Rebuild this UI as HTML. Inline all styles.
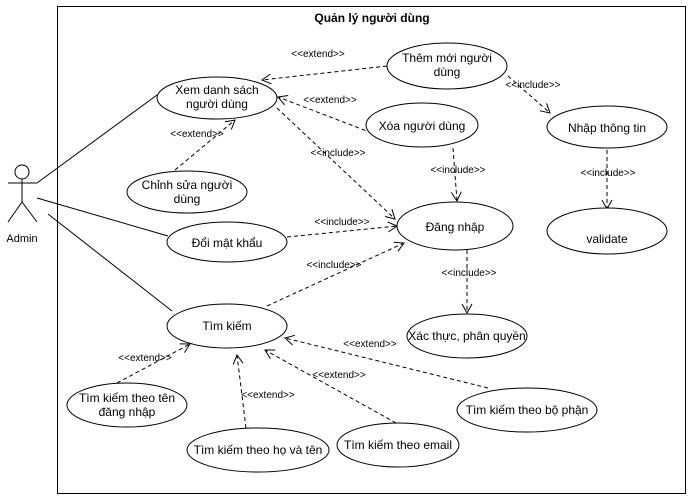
<!DOCTYPE html>
<html><head><meta charset="utf-8"><style>
html,body{margin:0;padding:0;background:#fff;}
svg{display:block;font-family:"Liberation Sans",Arial,sans-serif;}
</style></head><body>
<svg width="693" height="499" viewBox="0 0 693 499" xmlns="http://www.w3.org/2000/svg">
<defs>
<marker id="a" markerWidth="12" markerHeight="12" refX="10" refY="6" orient="auto" markerUnits="userSpaceOnUse">
<path d="M1,1 L10,6 L1,11" fill="none" stroke="#000" stroke-width="1"/>
</marker>
</defs>
<rect x="57.5" y="6.5" width="628" height="487" fill="#fff" stroke="#000"/>
<text x="372" y="22" font-size="12" font-weight="bold" text-anchor="middle">Quản lý người dùng</text>

<g stroke="#000" fill="none" stroke-width="1">
<circle cx="22" cy="172" r="7" fill="#fff"/>
<line x1="22" y1="179" x2="22" y2="202"/>
<line x1="8" y1="183" x2="37" y2="183"/>
<line x1="22" y1="202" x2="8" y2="222"/>
<line x1="22" y1="202" x2="37" y2="222"/>
<line x1="37" y1="183" x2="157" y2="95"/>
<line x1="37" y1="198" x2="168" y2="236"/>
<line x1="48" y1="214" x2="172" y2="311"/>
</g>
<text x="22" y="242" font-size="11" text-anchor="middle">Admin</text>

<g stroke="#000" fill="none" stroke-dasharray="4,3" marker-end="url(#a)">
<line x1="387" y1="66" x2="262" y2="80"/>
<line x1="372" y1="133" x2="278" y2="97"/>
<line x1="277" y1="108" x2="395" y2="219"/>
<line x1="175" y1="170" x2="235" y2="120"/>
<line x1="508" y1="76" x2="550" y2="113"/>
<line x1="453" y1="148" x2="457" y2="201"/>
<line x1="607" y1="150" x2="607" y2="209"/>
<line x1="287" y1="237" x2="397" y2="226"/>
<line x1="267" y1="306" x2="404" y2="243"/>
<line x1="467" y1="250" x2="467" y2="313"/>
<line x1="117" y1="383" x2="190" y2="344"/>
<line x1="246" y1="428" x2="237" y2="355"/>
<line x1="396" y1="423" x2="265" y2="350"/>
<line x1="488" y1="388" x2="285" y2="338"/>
</g>

<g font-size="10" text-anchor="middle" fill="#000">
<text x="318" y="57">&lt;&lt;extend&gt;&gt;</text>
<text x="330" y="103">&lt;&lt;extend&gt;&gt;</text>
<text x="338" y="156">&lt;&lt;include&gt;&gt;</text>
<text x="197" y="137">&lt;&lt;extend&gt;&gt;</text>
<text x="533" y="88">&lt;&lt;include&gt;&gt;</text>
<text x="458" y="173">&lt;&lt;include&gt;&gt;</text>
<text x="608" y="176">&lt;&lt;include&gt;&gt;</text>
<text x="342" y="225">&lt;&lt;include&gt;&gt;</text>
<text x="334" y="268">&lt;&lt;include&gt;&gt;</text>
<text x="469" y="276">&lt;&lt;include&gt;&gt;</text>
<text x="145" y="361">&lt;&lt;extend&gt;&gt;</text>
<text x="268" y="398">&lt;&lt;extend&gt;&gt;</text>
<text x="339" y="378">&lt;&lt;extend&gt;&gt;</text>
<text x="370" y="347">&lt;&lt;extend&gt;&gt;</text>
</g>

<g fill="#fff" stroke="#000">
<ellipse cx="217" cy="98" rx="60" ry="21"/>
<ellipse cx="447" cy="66" rx="60" ry="23"/>
<ellipse cx="422" cy="125" rx="56" ry="22"/>
<ellipse cx="607" cy="127" rx="60" ry="21"/>
<ellipse cx="187" cy="192" rx="60" ry="21"/>
<ellipse cx="227" cy="242" rx="60" ry="20"/>
<ellipse cx="455" cy="226" rx="58" ry="24"/>
<ellipse cx="607" cy="231" rx="60" ry="23"/>
<ellipse cx="227" cy="326" rx="60" ry="22"/>
<ellipse cx="467" cy="336" rx="60" ry="22"/>
<ellipse cx="127" cy="405" rx="60" ry="22"/>
<ellipse cx="527" cy="410" rx="70" ry="22"/>
<ellipse cx="398" cy="445" rx="61" ry="22"/>
<ellipse cx="258" cy="450" rx="71" ry="22"/>
</g>
<g font-size="12" text-anchor="middle" fill="#000">
<text x="217" y="94">Xem danh sách</text><text x="217" y="108">người dùng</text>
<text x="447" y="62">Thêm mới người</text><text x="447" y="76">dùng</text>
<text x="422" y="130">Xóa người dùng</text>
<text x="607" y="132">Nhập thông tin</text>
<text x="187" y="189">Chỉnh sửa người</text><text x="187" y="203">dùng</text>
<text x="227" y="247">Đổi mật khẩu</text>
<text x="455" y="231">Đăng nhập</text>
<text x="607" y="243">validate</text>
<text x="227" y="330">Tìm kiếm</text>
<text x="467" y="340">Xác thực, phân quyền</text>
<text x="127" y="402">Tìm kiếm theo tên</text><text x="127" y="416">đăng nhập</text>
<text x="527" y="414">Tìm kiếm theo bộ phận</text>
<text x="398" y="449">Tìm kiếm theo email</text>
<text x="258" y="454">Tìm kiếm theo họ và tên</text>
</g>
</svg>
</body></html>
